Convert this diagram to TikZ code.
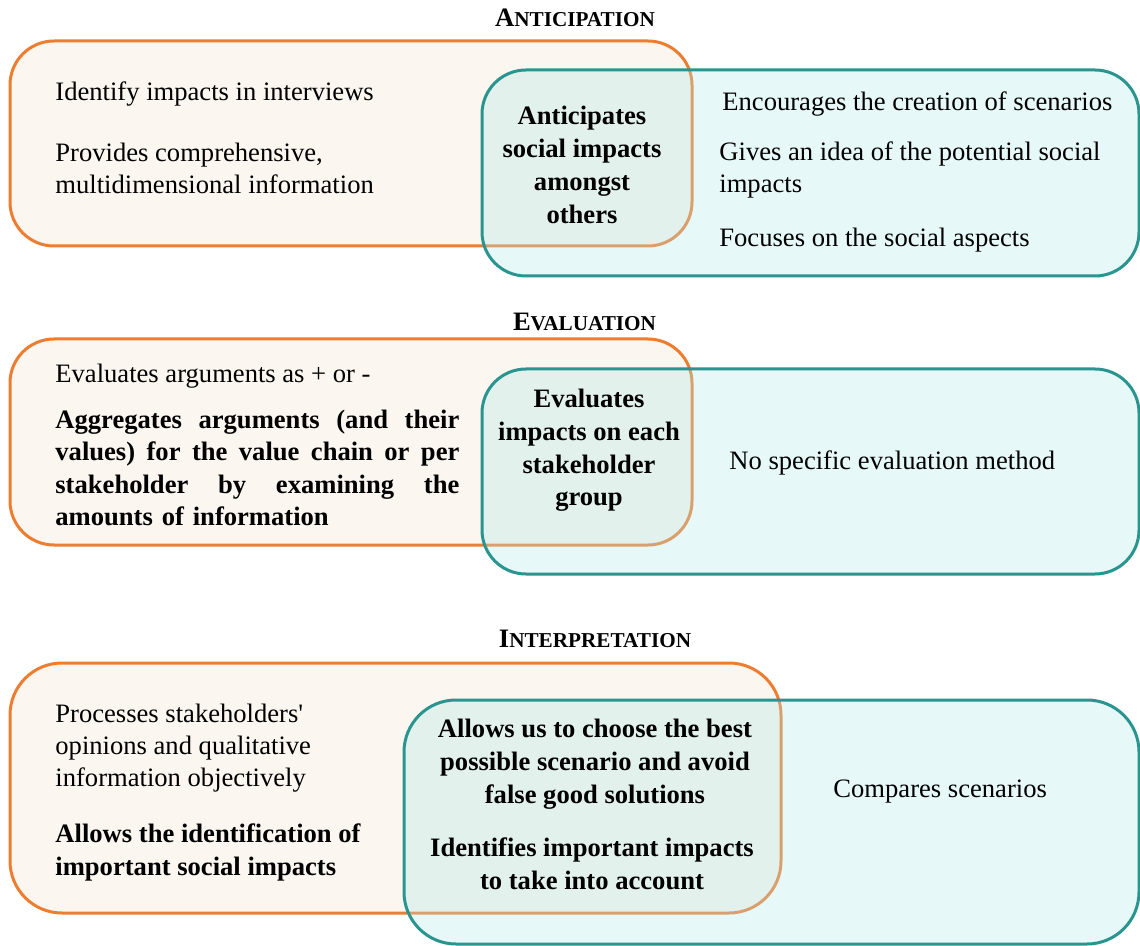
\documentclass[tikz,border=0pt]{standalone}
\usepackage{fontspec}
\setmainfont{Liberation Serif}[Ligatures=TeXOff]
\definecolor{orangeB}{RGB}{237,125,49}
\definecolor{orangeF}{RGB}{251,246,240}
\definecolor{tealB}{RGB}{42,148,142}
\definecolor{tealF}{RGB}{179,233,233}
\newcommand\sctitle[2]{{\fontsize{13.3}{15}\selectfont\bfseries #1}{\fontsize{10.6}{12}\selectfont\bfseries #2}}
\tikzset{
  obox/.style={draw=orangeB, line width=1.5pt, fill=orangeF, rounded corners=22pt},
  tbox/.style={draw=tealB, line width=1.5pt, fill=tealF, fill opacity=0.33, draw opacity=1, rounded corners=22pt},
  tall/.style={rounded corners=26pt},
  txt/.style={inner sep=0pt, font=\fontsize{13.3}{16}\selectfont, anchor=west, align=left},
  btxt/.style={inner sep=0pt, font=\fontsize{13.3}{16.4}\selectfont\bfseries, align=center},
  bltxt/.style={inner sep=0pt, font=\fontsize{13.3}{16.2}\selectfont\bfseries, anchor=west, align=left},
  ttl/.style={inner sep=0pt, anchor=base}
}
\begin{document}
\begin{tikzpicture}[x=0.5pt,y=-0.5pt]
\useasboundingbox (0,0) rectangle (1140,946);
% ---------- Anticipation ----------
\node[ttl] (t1) at (575,27) {\sctitle{A}{NTICIPATION}};
\draw[obox] (10,41) rectangle (692,246);
\draw[tbox] (482,70) rectangle (1139,276);
\node[txt] (a1) at (55,94) {Identify impacts in interviews};
\node[txt] (a2) at (55,168) {Provides comprehensive,\\multidimensional information};
\node[btxt] (a3) at (582,165) {Anticipates\\social impacts\\amongst\\others};
\node[txt] (a4) at (722,104) {Encourages the creation of scenarios};
\node[txt] (a5) at (719,169.5) {Gives an idea of the potential social\\impacts};
\node[txt] (a6) at (719,240.5) {Focuses on the social aspects};
% ---------- Evaluation ----------
\node[ttl] (t2) at (584.5,331) {\sctitle{E}{VALUATION}};
\draw[obox] (10,339) rectangle (692,545);
\draw[tbox] (482,369) rectangle (1139,574);
\node[txt] (e1) at (55,376) {Evaluates arguments as + or -};
\node[bltxt, text width=202pt] (e2) at (55,468) {%
\makebox[202pt][s]{Aggregates\hfill arguments\hfill (and\hfill their}\\
\makebox[202pt][s]{values)\hfill for\hfill the\hfill value\hfill chain\hfill or\hfill per}\\
\makebox[202pt][s]{stakeholder\hfill by\hfill examining\hfill the}\\
amounts of information};
\node[btxt] (e3) at (589,450.5) {Evaluates\\impacts on each\\stakeholder\\group};
\node[txt] (e4) at (729,463) {No specific evaluation method};
% ---------- Interpretation ----------
\node[ttl] (t3) at (595,647) {\sctitle{I}{NTERPRETATION}};
\draw[obox, tall] (10,663) rectangle (781,913);
\draw[tbox, tall] (404,700) rectangle (1139,944);
\node[txt] (i1) at (55,748) {Processes stakeholders'\\opinions and qualitative\\information objectively};
\node[bltxt] (i2) at (55,852.5) {Allows the identification of\\important social impacts};
\node[btxt] (i3) at (595,764) {Allows us to choose the best\\possible scenario and avoid\\false good solutions};
\node[btxt] (i4) at (592,863.5) {Identifies important impacts\\to take into account};
\node[txt] (i5) at (833,792) {Compares scenarios};
\end{tikzpicture}
\end{document}
